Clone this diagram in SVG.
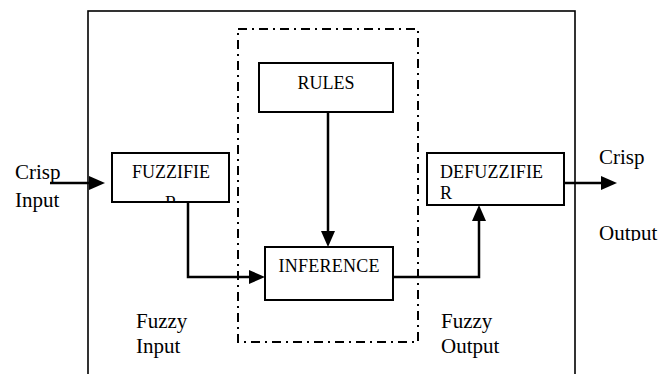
<svg xmlns="http://www.w3.org/2000/svg" width="670" height="374" viewBox="0 0 670 374">
<style>
  .box { fill: #fff; stroke: #000; stroke-width: 2; }
  .frame { fill: none; stroke: #000; stroke-width: 1.6; }
  .dd { fill: none; stroke: #000; stroke-width: 2; stroke-dasharray: 9 5 2 5; }
  .conn { fill: none; stroke: #000; stroke-width: 2.5; }
  .lbl { font-family: "Liberation Serif", "Times New Roman", serif; font-size: 21px; fill: #000; }
  .blbl { font-family: "Liberation Serif", "Times New Roman", serif; font-size: 18px; fill: #000; }
</style>
<defs>
  <marker id="ah" markerUnits="userSpaceOnUse" markerWidth="17" markerHeight="15" refX="0" refY="7" orient="auto">
    <path d="M0,0 L16,7 L0,14 Z" fill="#000"/>
  </marker>
  <clipPath id="cF"><rect x="113" y="154" width="115" height="47"/></clipPath>
  <clipPath id="cOut"><rect x="590" y="215" width="80" height="26"/></clipPath>
</defs>
<rect width="670" height="374" fill="#fff"/>
<g id="frame">
  <rect class="frame" x="88" y="11" width="487" height="380"/>
  <rect class="dd" x="238" y="29" width="180" height="313"/>
</g>
<g id="connectors">
  <path class="conn" d="M50,183 H89" marker-end="url(#ah)"/>
  <path class="conn" d="M188,202 V277 H249" marker-end="url(#ah)"/>
  <path class="conn" d="M328,112 V231" marker-end="url(#ah)"/>
  <path class="conn" d="M393,277 H479 V221" marker-end="url(#ah)"/>
  <path class="conn" d="M564,183 H601" marker-end="url(#ah)"/>
</g>
<g id="rules">
  <rect class="box" x="259" y="63" width="134" height="49"/>
  <text class="blbl" x="326" y="89" text-anchor="middle">RULES</text>
</g>
<g id="fuzzifier">
  <rect class="box" x="112" y="153" width="117" height="49"/>
  <g clip-path="url(#cF)">
    <text class="blbl" x="171" y="178" text-anchor="middle">FUZZIFIE</text>
    <text class="blbl" x="171" y="209" text-anchor="middle">R</text>
  </g>
</g>
<g id="inference">
  <rect class="box" x="265" y="247" width="128" height="53"/>
  <text class="blbl" x="329" y="272" text-anchor="middle" textLength="101">INFERENCE</text>
</g>
<g id="defuzzifier">
  <rect class="box" x="427" y="153" width="137" height="52"/>
  <text class="blbl" x="440" y="178" textLength="103">DEFUZZIFIE</text>
  <text class="blbl" x="440" y="199">R</text>
</g>
<g id="labels">
  <text class="lbl" x="15" y="179">Crisp</text>
  <text class="lbl" x="15" y="207">Input</text>
  <text class="lbl" x="599" y="164">Crisp</text>
  <text class="lbl" x="599" y="240" clip-path="url(#cOut)">Output</text>
  <text class="lbl" x="136" y="328">Fuzzy</text>
  <text class="lbl" x="136" y="353">Input</text>
  <text class="lbl" x="441" y="328">Fuzzy</text>
  <text class="lbl" x="441" y="353">Output</text>
</g>
</svg>
